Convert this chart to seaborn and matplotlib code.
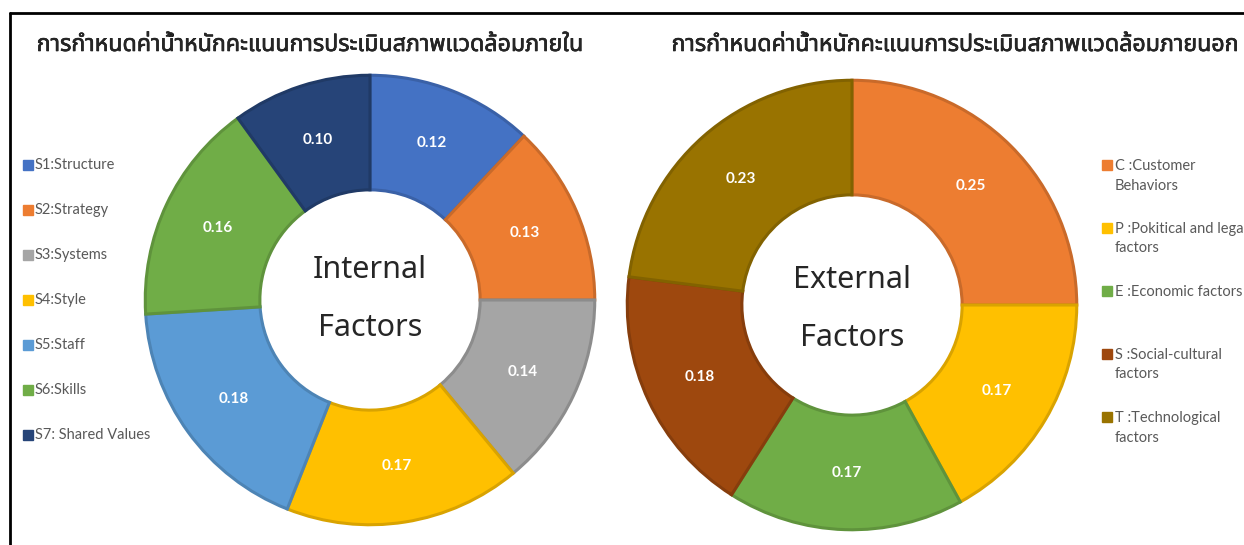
import numpy as np
import matplotlib
matplotlib.use("Agg")
import matplotlib.pyplot as plt
import matplotlib.colors as mcolors
import matplotlib.patheffects as pe
from matplotlib.lines import Line2D
from matplotlib.patches import Rectangle
import seaborn as sns

# ---- data ----
internal_labels = ["S1:Structure", "S2:Strategy", "S3:Systems", "S4:Style",
                   "S5:Staff", "S6:Skills", "S7: Shared Values"]
internal_weights = [0.12, 0.13, 0.14, 0.17, 0.18, 0.16, 0.10]

external_labels = ["C :Customer\nBehaviors", "P :Pokitical and legal\nfactors",
                   "E :Economic factors", "S :Social-cultural\nfactors",
                   "T :Technological\nfactors"]
external_weights = [0.25, 0.17, 0.17, 0.18, 0.23]

title_internal = "การกำหนดค่าน้ำหนักคะแนนการประเมินสภาพแวดล้อมภายใน"
title_external = "การกำหนดค่าน้ำหนักคะแนนการประเมินสภาพแวดล้อมภายนอก"

# ---- style ----
sns.set_theme(style="white")
internal_colors = sns.color_palette(["#4472C4", "#ED7D31", "#A5A5A5", "#FFC000",
                                     "#5B9BD5", "#70AD47", "#264478"])
external_colors = sns.color_palette(["#ED7D31", "#FFC000", "#70AD47", "#9E480E", "#997300"])
THAI = ["Noto Sans Thai", "Noto Sans", "DejaVu Sans"]
LAT = ["Lato", "DejaVu Sans"]

W, H = 1244, 545
fig = plt.figure(figsize=(W / 100, H / 100), dpi=100)


def darker(c, f=0.85):
    r, g, b = mcolors.to_rgb(c)
    return (r * f, g * f, b * f)


def donut(cx, cy, r, values, colors, center_text, text_y):
    ax = fig.add_axes([(cx - r) / W, (H - cy - r) / H, 2 * r / W, 2 * r / H])
    wedges, _ = ax.pie(values, colors=colors, startangle=90, counterclock=False,
                       radius=1, wedgeprops=dict(width=0.51, linewidth=2.2))
    for w, c, v in zip(wedges, colors, values):
        w.set_edgecolor(darker(c))
        ang = np.deg2rad((w.theta1 + w.theta2) / 2)
        ax.text(0.75 * np.cos(ang), 0.75 * np.sin(ang), f"{v:.2f}",
                ha="center", va="center", color="white", fontsize=11,
                fontweight="bold", family=LAT)
    for t, y in zip(center_text, text_y):
        ax.text(0, y, t, ha="center", va="center", fontsize=22, family=THAI)
    ax.set_xlim(-1.01, 1.01)
    ax.set_ylim(-1.01, 1.01)
    ax.set_aspect("equal")
    ax.axis("off")
    return ax


donut(370, 300, 227, internal_weights, internal_colors, ["Internal", "Factors"], [0.134, -0.126])
donut(852, 305, 227, external_weights, external_colors, ["External", "Factors"], [0.11, -0.145])

# titles
bold = [pe.withStroke(linewidth=0.4, foreground="black")]
fig.text(310 / W, 1 - 45 / H, title_internal, ha="center", va="center",
         fontsize=16.7, family=THAI, path_effects=bold)
fig.text(955 / W, 1 - 45 / H, title_external, ha="center", va="center",
         fontsize=16.7, family=THAI, path_effects=bold)

# legends (Excel-like fixed slots)
for i, (lab, c) in enumerate(zip(internal_labels, internal_colors)):
    y = 165 + 45 * i
    fig.patches.append(Rectangle((23 / W, 1 - (y + 5) / H), 10 / W, 10 / H,
                                 transform=fig.transFigure, color=c, zorder=5))
    fig.text(35 / W, 1 - y / H, lab, ha="left", va="center", fontsize=10.5,
             color="#595959", family=LAT)

for i, (lab, c) in enumerate(zip(external_labels, external_colors)):
    y = 165 + 63 * i
    fig.patches.append(Rectangle((1102 / W, 1 - (y + 5) / H), 10 / W, 10 / H,
                                 transform=fig.transFigure, color=c, zorder=5))
    fig.text(1115 / W, 1 - (y - 6) / H, lab, ha="left", va="top", fontsize=10.5,
             color="#595959", family=LAT, linespacing=1.5)

# frame lines
fig.add_artist(Line2D([10 / W, 10 / W], [0, 1 - 13 / H], color="black", lw=2,
                      transform=fig.transFigure))
fig.add_artist(Line2D([10 / W, 1], [1 - 13 / H, 1 - 13 / H], color="black", lw=2,
                      transform=fig.transFigure))

fig.savefig("out.png", dpi=100, facecolor="white")
